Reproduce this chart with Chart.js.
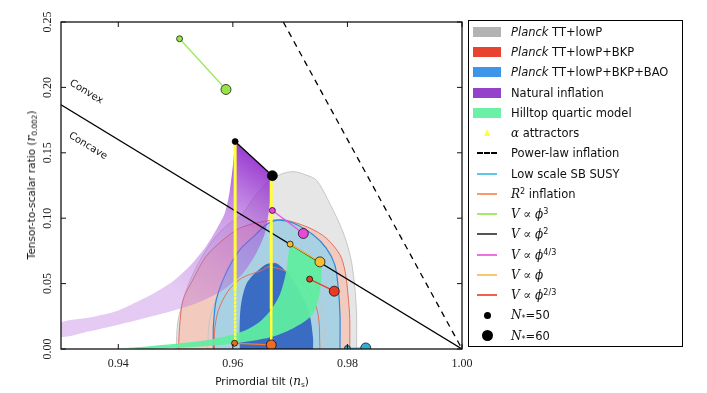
<!DOCTYPE html>
<html>
<head>
<meta charset="utf-8">
<script src="https://cdn.jsdelivr.net/npm/chart.js@4.4.0/dist/chart.umd.min.js"></script>
<style>
body{margin:0;background:#fff;}
#wrap{position:relative;width:707px;height:393px;font-family:"DejaVu Sans",sans-serif;color:#111;}
#legend{position:absolute;left:468px;top:20px;width:213px;height:325px;border:1px solid #000;font-size:11.5px;}
.row{position:absolute;left:0;height:20px;display:flex;align-items:center;white-space:nowrap;}
.sw{width:28px;margin-left:4px;height:20px;position:relative;flex:none;}
.txt{margin-left:10px;}
.m{font-family:"DejaVu Serif",serif;font-style:italic;font-size:12px;}
.op{font-family:"DejaVu Serif",serif;font-size:12px;}
sup,sub{font-size:70%;line-height:0;}
sup{vertical-align:0.55em;}
sub{vertical-align:-0.3em;}
.ttl{position:absolute;font-size:10.5px;white-space:nowrap;transform:translate(-50%,-50%);}
</style>
</head>
<body>
<div id="wrap">
<canvas id="c" width="707" height="393"></canvas>
<div id="legend"></div>
<div class="ttl" style="left:262px;top:381px;">Primordial tilt (<span class="m">n</span><sub>s</sub>)</div>
<div class="ttl" style="left:31px;top:185px;transform:translate(-50%,-50%) rotate(-90deg);">Tensor-to-scalar ratio (<span class="m">r</span><sub>0.002</sub>)</div>
</div>
<script>
// axis ticks
const xTicks = [0.94, 0.96, 0.98, 1.00];
const yTicks = [0.00, 0.05, 0.10, 0.15, 0.20, 0.25];

// Planck contours (ns, r)
const grayOuterNs = [0.9501,0.9504,0.9516,0.9527,0.9545,0.9568,0.9591,0.9615,0.9638,0.9658,0.9682,0.9705,0.9726,0.9746,0.9766,0.9787,0.9798,0.9807,0.9813,0.9816,0.9816];
const grayOuterR  = [0.0000,0.0209,0.0414,0.0541,0.0695,0.0848,0.0950,0.1026,0.1164,0.1264,0.1333,0.1356,0.1333,0.1290,0.1140,0.0950,0.0822,0.0669,0.0465,0.0260,0.0000];
const grayInnerNs = [0.9556,0.9559,0.9574,0.9597,0.9632,0.9656,0.9675,0.9699,0.9726,0.9745,0.9755,0.9760,0.9761];
const grayInnerR  = [0.0000,0.0209,0.0414,0.0541,0.0630,0.0656,0.0660,0.0640,0.0560,0.0440,0.0300,0.0146,0.0000];
const redOuterNs = [0.9505,0.9507,0.9513,0.9530,0.9553,0.9583,0.9610,0.9640,0.9670,0.9693,0.9734,0.9763,0.9787,0.9796,0.9801,0.9804,0.9804];
const redOuterR  = [0.0000,0.0171,0.0375,0.0528,0.0707,0.0835,0.0920,0.0963,0.0985,0.0985,0.0925,0.0848,0.0720,0.0592,0.0414,0.0235,0.0000];
const redInnerNs = [0.9568,0.9568,0.9574,0.9591,0.9615,0.9650,0.9665,0.9705,0.9734,0.9749,0.9752];
const redInnerR  = [0.0000,0.0133,0.0286,0.0439,0.0541,0.0600,0.0630,0.0567,0.0439,0.0260,0.0000];
const blueOuterNs = [0.9566,0.9566,0.9571,0.9588,0.9612,0.9641,0.9658,0.9678,0.9705,0.9740,0.9763,0.9778,0.9784,0.9787,0.9787];
const blueOuterR  = [0.0000,0.0171,0.0375,0.0580,0.0758,0.0880,0.0950,0.0985,0.0963,0.0873,0.0771,0.0643,0.0465,0.0260,0.0000];
const blueInnerNs = [0.9612,0.9612,0.9615,0.9626,0.9656,0.9674,0.9693,0.9717,0.9734,0.9740,0.9740];
const blueInnerR  = [0.0000,0.0209,0.0362,0.0516,0.0643,0.0660,0.0592,0.0439,0.0260,0.0082,0.0000];

// natural inflation band: N=50 edge then N=60 edge back
const naturalNs = [0.9604,0.9600,0.9594,0.9586,0.9571,0.9553,0.9524,0.9495,0.9460,0.9430,0.9400,0.9350,0.9300,
                   0.9300,0.9350,0.9400,0.9450,0.9495,0.9542,0.9583,0.9618,0.9641,0.9656,0.9664,0.9669];
const naturalR  = [0.1586,0.1397,0.1193,0.1040,0.0912,0.0784,0.0630,0.0516,0.0420,0.0355,0.0295,0.0240,0.0201,
                   0.0094,0.0135,0.0185,0.0240,0.0292,0.0360,0.0452,0.0580,0.0733,0.0886,0.1090,0.1325];

// hilltop quartic band
const hilltopNs = [0.9699,0.9693,0.9682,0.9664,0.9647,0.9620,0.9590,0.9550,0.9500,0.9450,0.9400,
                   0.9450,0.9565,0.9623,0.9670,0.9710,0.9740,0.9752,0.9755,0.9752];
const hilltopR  = [0.0797,0.0592,0.0414,0.0286,0.0209,0.0140,0.0100,0.0065,0.0040,0.0020,0.0003,
                   0.0000,0.0025,0.0055,0.0095,0.0170,0.0270,0.0439,0.0618,0.0666];

// alpha attractors (solid part, then dotted part)
const alpha50Ns = [0.9604,0.9604,0.9604];
const alpha50R  = [0.1586,0.0450,0.0050];
const alpha60Ns = [0.9667,0.9667,0.9667];
const alpha60R  = [0.1325,0.0300,0.0040];

// straight lines
const powerLawNs = [0.9688,1.0000];
const powerLawR  = [0.2500,0.0000];
const convexNs = [0.9300,1.0000];
const convexR  = [0.1867,0.0000];

// models: [N=50, N=60]
const phi3Ns  = [0.9507,0.9588]; const phi3R  = [0.2372,0.1984];
const phi2Ns  = [0.9604,0.9669]; const phi2R  = [0.1586,0.1325];
const phi43Ns = [0.9669,0.9723]; const phi43R = [0.1059,0.0883];
const phi1Ns  = [0.9700,0.9752]; const phi1R  = [0.0802,0.0666];
const phi23Ns = [0.9734,0.9777]; const phi23R = [0.0534,0.0442];
const r2Ns    = [0.9603,0.9667]; const r2R    = [0.0044,0.0031];
const susyNs  = [0.9800,0.9832]; const susyR  = [0.0004,0.0008];

// labels near the convex/concave line
const convexLabelAt  = [0.9344,0.1965];
const concaveLabelAt = [0.9347,0.1552];

function pts(xs, ys){ return xs.map((v,i) => ({x:v, y:ys[i]})); }

function fillSet(xs, ys, color, order){
    return {data:pts(xs,ys), showLine:true, fill:'shape', backgroundColor:color,
            borderWidth:0, pointRadius:0, tension:0.3, order:order};
}
function edgeSet(xs, ys, color, width, order){
    return {data:pts(xs,ys), showLine:true, fill:false, borderColor:color,
            borderWidth:width, pointRadius:0, tension:0.3, order:order};
}
function modelSet(xs, ys, color, pointColor, order){
    return {data:pts(xs,ys), showLine:true, borderColor:color, borderWidth:1.3,
            pointRadius:[3,5], pointBackgroundColor:pointColor, pointBorderColor:'#000',
            pointBorderWidth:0.7, order:order};
}

function purpleFill(c){
    const ch = c.chart;
    if (!ch.chartArea) return 'rgba(170,90,215,0.5)';
    const x = ch.scales.x, y = ch.scales.y;
    const g = ch.ctx.createLinearGradient(x.getPixelForValue(0.967), y.getPixelForValue(0.15),
                                          x.getPixelForValue(0.950), y.getPixelForValue(0.045));
    g.addColorStop(0, 'rgba(135,25,200,0.95)');
    g.addColorStop(0.45, 'rgba(165,75,215,0.55)');
    g.addColorStop(1, 'rgba(185,115,225,0.38)');
    return g;
}

const datasets = [
    // back layers (high order = drawn first)
    fillSet(grayOuterNs, grayOuterR, '#e6e6e6', 100),
    fillSet(grayInnerNs, grayInnerR, '#dddddd', 99),
    fillSet(redOuterNs, redOuterR, '#f2cabe', 98),
    fillSet(redInnerNs, redInnerR, '#ecbfb4', 97),
    fillSet(blueOuterNs, blueOuterR, '#a8d2e4', 96),
    fillSet(blueInnerNs, blueInnerR, '#3a6cc4', 95),
    edgeSet(grayOuterNs, grayOuterR, '#c6c6c6', 1, 90),
    edgeSet(grayInnerNs, grayInnerR, '#c6c6c6', 1, 89),
    edgeSet(redOuterNs, redOuterR, '#e2705e', 1, 88),
    edgeSet(redInnerNs, redInnerR, '#e2705e', 1, 87),
    edgeSet(blueOuterNs, blueOuterR, '#2f86de', 1.2, 86),
    {data:pts(naturalNs,naturalR), showLine:true, fill:'shape', backgroundColor:purpleFill,
     borderWidth:0, pointRadius:0, tension:0.25, order:80},
    {data:pts(hilltopNs,hilltopR), showLine:true, fill:'shape', backgroundColor:'rgba(95,238,160,0.93)',
     borderWidth:0, pointRadius:0, tension:0.3, order:79},
    {data:pts(convexNs,convexR), showLine:true, borderColor:'#000', borderWidth:1.3, pointRadius:0, order:70},
    {data:pts(powerLawNs,powerLawR), showLine:true, borderColor:'#000', borderWidth:1.3, borderDash:[6,5], pointRadius:0, order:69},
    {data:pts(alpha50Ns,alpha50R), showLine:true, borderColor:'#ffff3a', borderWidth:3, pointRadius:0, order:60,
     segment:{borderDash:s => s.p0DataIndex === 1 ? [2,2] : undefined, borderWidth:s => s.p0DataIndex === 1 ? 2.5 : undefined}},
    {data:pts(alpha60Ns,alpha60R), showLine:true, borderColor:'#ffff3a', borderWidth:3, pointRadius:0, order:59,
     segment:{borderDash:s => s.p0DataIndex === 1 ? [2,2] : undefined, borderWidth:s => s.p0DataIndex === 1 ? 2.5 : undefined}},
    modelSet(susyNs, susyR, '#3fb8dc', '#30aed4', 10),
    modelSet(r2Ns, r2R, '#f07838', '#f06a24', 9),
    modelSet(phi23Ns, phi23R, '#e84030', '#e83c22', 8),
    modelSet(phi1Ns, phi1R, '#f4b840', '#f8bc34', 7),
    modelSet(phi43Ns, phi43R, '#ec54dc', '#e848d8', 6),
    modelSet(phi3Ns, phi3R, '#9ce85a', '#98e448', 5),
    modelSet(phi2Ns, phi2R, '#000', '#000', 4)
];

const framePlugin = {
    id: 'frame',
    afterDatasetsDraw(chart){
        const {ctx, chartArea:a, scales:{x, y}} = chart;
        ctx.save();
        ctx.strokeStyle = '#111';
        ctx.lineWidth = 1.3;
        ctx.strokeRect(a.left, a.top, a.right - a.left, a.bottom - a.top);
        ctx.lineWidth = 1;
        ctx.beginPath();
        xTicks.forEach(v => {
            const px = x.getPixelForValue(v);
            ctx.moveTo(px, a.bottom); ctx.lineTo(px, a.bottom - 5);
            ctx.moveTo(px, a.top); ctx.lineTo(px, a.top + 5);
        });
        yTicks.forEach(v => {
            const py = y.getPixelForValue(v);
            ctx.moveTo(a.left, py); ctx.lineTo(a.left + 5, py);
            ctx.moveTo(a.right, py); ctx.lineTo(a.right - 5, py);
        });
        ctx.stroke();
        // rotated y tick labels
        ctx.fillStyle = '#222';
        ctx.font = '12px "Liberation Serif"';
        ctx.textAlign = 'center';
        ctx.textBaseline = 'middle';
        yTicks.forEach(v => {
            ctx.save();
            ctx.translate(a.left - 13, y.getPixelForValue(v));
            ctx.rotate(-Math.PI / 2);
            ctx.fillText(v.toFixed(2), 0, 0);
            ctx.restore();
        });
        // convex / concave labels along the line
        const ang = Math.atan2(y.getPixelForValue(convexR[1]) - y.getPixelForValue(convexR[0]),
                               x.getPixelForValue(convexNs[1]) - x.getPixelForValue(convexNs[0]));
        ctx.font = '10px "DejaVu Sans"';
        ctx.fillStyle = '#111';
        [['Convex', convexLabelAt], ['Concave', concaveLabelAt]].forEach(([t, p]) => {
            ctx.save();
            ctx.translate(x.getPixelForValue(p[0]), y.getPixelForValue(p[1]));
            ctx.rotate(ang);
            ctx.fillText(t, 0, 0);
            ctx.restore();
        });
        ctx.restore();
    }
};

new Chart(document.getElementById('c'), {
    type: 'scatter',
    data: {datasets: datasets},
    options: {
        responsive: false,
        animation: false,
        layout: {padding: {top: 22, right: 245, left: 0, bottom: 0}},
        plugins: {legend: {display: false}, tooltip: {enabled: false}},
        scales: {
            x: {
                type: 'linear', min: 0.93, max: 1.0,
                afterBuildTicks: s => { s.ticks = xTicks.map(v => ({value: v})); },
                afterFit: s => { s.height = 44; },
                grid: {display: false, drawTicks: false},
                border: {display: false},
                ticks: {padding: 8, color: '#222', font: {family: 'Liberation Serif', size: 12},
                        callback: v => Number(v).toFixed(2)}
            },
            y: {
                type: 'linear', min: 0, max: 0.25,
                afterBuildTicks: s => { s.ticks = yTicks.map(v => ({value: v})); },
                afterFit: s => { s.width = 61; },
                grid: {display: false, drawTicks: false},
                border: {display: false},
                ticks: {display: false}
            }
        }
    },
    plugins: [framePlugin]
});

// legend
const legendItems = [
    {sw: 'patch', c: '#b3b3b3', html: '<i>Planck</i> TT+lowP'},
    {sw: 'patch', c: '#e8432e', html: '<i>Planck</i> TT+lowP+BKP'},
    {sw: 'patch', c: '#3d96e8', html: '<i>Planck</i> TT+lowP+BKP+BAO'},
    {sw: 'patch', c: '#9442cc', html: 'Natural inflation'},
    {sw: 'patch', c: '#6cf0a8', html: 'Hilltop quartic model'},
    {sw: 'tri', c: '#ffff3a', html: '<span class="m">α</span> attractors'},
    {sw: 'dash', c: '#000', html: 'Power-law inflation'},
    {sw: 'line', c: '#5bc8e8', html: 'Low scale SB SUSY'},
    {sw: 'line', c: '#f89a6a', html: '<span class="m">R</span><sup>2</sup> inflation'},
    {sw: 'line', c: '#a8e868', html: '<span class="m">V</span> <span class="op">∝</span> <span class="m">ϕ</span><sup>3</sup>'},
    {sw: 'line', c: '#555555', html: '<span class="m">V</span> <span class="op">∝</span> <span class="m">ϕ</span><sup>2</sup>'},
    {sw: 'line', c: '#f070e0', html: '<span class="m">V</span> <span class="op">∝</span> <span class="m">ϕ</span><sup>4/3</sup>'},
    {sw: 'line', c: '#f8c870', html: '<span class="m">V</span> <span class="op">∝</span> <span class="m">ϕ</span>'},
    {sw: 'line', c: '#f06050', html: '<span class="m">V</span> <span class="op">∝</span> <span class="m">ϕ</span><sup>2/3</sup>'},
    {sw: 'dot', c: '#000', r: 3.5, html: '<span class="m">N</span><sub>*</sub>=50'},
    {sw: 'dot', c: '#000', r: 5.5, html: '<span class="m">N</span><sub>*</sub>=60'}
];

const legend = document.getElementById('legend');
legendItems.forEach((it, i) => {
    const row = document.createElement('div');
    row.className = 'row';
    row.style.top = (0.7 + i * 20.27) + 'px';
    const sw = document.createElement('div');
    sw.className = 'sw';
    let inner = '';
    if (it.sw === 'patch') {
        inner = `<div style="position:absolute;left:0;top:5px;width:28px;height:10px;background:${it.c}"></div>`;
    } else if (it.sw === 'line') {
        inner = `<div style="position:absolute;left:4px;top:9px;width:20px;height:2px;background:${it.c}"></div>`;
    } else if (it.sw === 'dash') {
        inner = `<div style="position:absolute;left:4px;top:9px;width:20px;height:0;border-top:2px dashed ${it.c}"></div>`;
    } else if (it.sw === 'tri') {
        inner = `<div style="position:absolute;left:11px;top:6px;width:0;height:0;border-left:3.5px solid transparent;border-right:3.5px solid transparent;border-bottom:7px solid ${it.c}"></div>`;
    } else if (it.sw === 'dot') {
        inner = `<div style="position:absolute;left:${14 - it.r}px;top:${10 - it.r}px;width:${2 * it.r}px;height:${2 * it.r}px;border-radius:50%;background:${it.c}"></div>`;
    }
    sw.innerHTML = inner;
    const txt = document.createElement('span');
    txt.className = 'txt';
    txt.innerHTML = it.html;
    row.appendChild(sw);
    row.appendChild(txt);
    legend.appendChild(row);
});
</script>
</body>
</html>
